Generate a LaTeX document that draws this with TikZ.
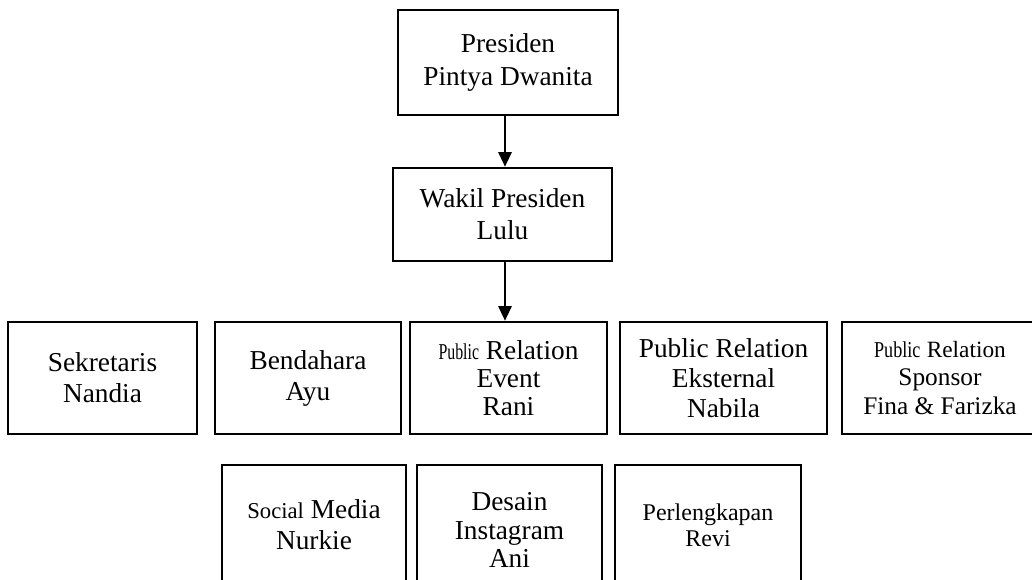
\documentclass[tikz,border=0pt]{standalone}
\usepackage{graphicx}
\usepackage{fontspec}
\setmainfont{Liberation Serif}
\usetikzlibrary{arrows.meta}
\newcommand\smallword[2]{{\fontsize{17}{20}\selectfont\scalebox{#1}[1]{#2}}}

\begin{document}
\begin{tikzpicture}
[x=0.75pt,y=0.75pt,
 nodedecorate/.style={shape=rectangle,inner sep=2pt,draw,line width=1.9pt,
   align=center,minimum height=112*0.75pt,font=\fontsize{20.5}{23.25}\selectfont},%
 tightdecorate/.style={nodedecorate,font=\fontsize{20.5}{21.4}\selectfont},%
 lowdecorate/.style={nodedecorate,minimum height=120*0.75pt},%
 linedecorate/.style={-{Triangle[width=10pt,length=11pt]},line width=1.5pt}]
\useasboundingbox (0,0) rectangle (1032,580);
%% top of the chart
\node (Presiden) at (508,517.5) [nodedecorate,minimum width=220*0.75pt,
  minimum height=105*0.75pt,font=\fontsize{20.5}{24.75}\selectfont]
  {Presiden\\Pintya Dwanita};
\node (Wakil) at (502.5,365.5) [nodedecorate,minimum width=219*0.75pt,
  minimum height=93*0.75pt,font=\fontsize{20.5}{24}\selectfont]
  {Wakil Presiden\\Lulu};
%% first row
\foreach \nodename/\x/\w/\txt in {Sekretaris/102.5/189/{Sekretaris\\Nandia},
 Bendahara/308/186/{Bendahara\\Ayu}}
{
  \node (\nodename) at (\x,202) [nodedecorate,minimum width=\w*0.75pt] {\txt};
}
\node (Event) at (508.5,202) [tightdecorate,minimum width=197*0.75pt,
  font=\fontsize{20.5}{21}\selectfont]
  {\smallword{0.7}{Public} Relation\\Event\\Rani};
\node (Eksternal) at (723.5,202) [tightdecorate,minimum width=207*0.75pt,
  font=\fontsize{20.5}{22.5}\selectfont]
  {Public Relation\\Eksternal\\Nabila};
\node (Sponsor) at (940,202) [tightdecorate,minimum width=196*0.75pt,
  font=\fontsize{19}{21.4}\selectfont]
  {\smallword{0.8}{Public} {\fontsize{17.5}{20}\selectfont Relation}\\Sponsor\\Fina \& Farizka};
%% second row
\node (Social) at (314,55) [lowdecorate,minimum width=184*0.75pt]
  {{\fontsize{17}{20}\selectfont Social} Media\\Nurkie};
\node (Desain) at (509.5,50) [lowdecorate,minimum width=185*0.75pt,
  minimum height=130*0.75pt,font=\fontsize{20.5}{21.4}\selectfont]
  {Desain\\Instagram\\Ani};
\node (Perlengkapan) at (708,55) [lowdecorate,minimum width=186*0.75pt,
  font=\fontsize{18}{19.5}\selectfont]
  {Perlengkapan\\Revi};
%% arrows
\coordinate (spine) at (505,0);
\draw[linedecorate] (Presiden.south -| spine) -- (Wakil.north -| spine);
\draw[linedecorate] (Wakil.south -| spine) -- (Event.north -| spine);
\end{tikzpicture}
\end{document}
